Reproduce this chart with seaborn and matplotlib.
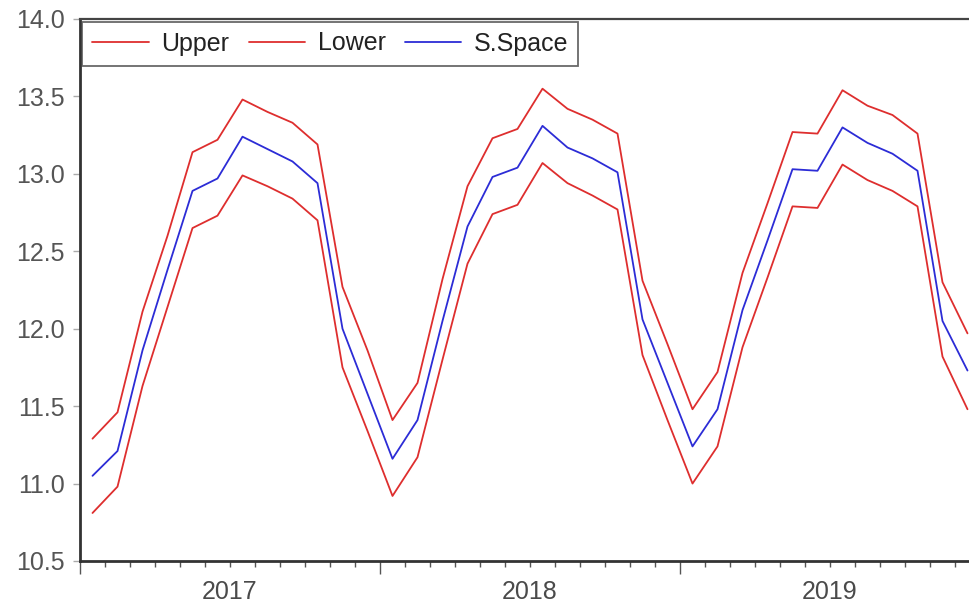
import matplotlib
matplotlib.use('Agg')
import matplotlib.pyplot as plt
import numpy as np
import pandas as pd
import seaborn as sns

# monthly observations 2017M01 - 2019M12
months = pd.period_range('2017-01', periods=36, freq='M')
years = ['2017', '2018', '2019']

upper = [11.29, 11.46, 12.11, 12.60, 13.14, 13.22, 13.48, 13.40, 13.33, 13.19, 12.27, 11.86,
         11.41, 11.65, 12.32, 12.92, 13.23, 13.29, 13.55, 13.42, 13.35, 13.26, 12.31, 11.90,
         11.48, 11.72, 12.36, 12.81, 13.27, 13.26, 13.54, 13.44, 13.38, 13.26, 12.30, 11.97]
sspace = [11.05, 11.21, 11.86, 12.38, 12.89, 12.97, 13.24, 13.16, 13.08, 12.94, 12.00, 11.58,
          11.16, 11.41, 12.05, 12.66, 12.98, 13.04, 13.31, 13.17, 13.10, 13.01, 12.06, 11.65,
          11.24, 11.48, 12.12, 12.57, 13.03, 13.02, 13.30, 13.20, 13.13, 13.02, 12.05, 11.73]
lower = [10.81, 10.98, 11.63, 12.14, 12.65, 12.73, 12.99, 12.92, 12.84, 12.70, 11.75, 11.34,
         10.92, 11.17, 11.80, 12.42, 12.74, 12.80, 13.07, 12.94, 12.86, 12.77, 11.83, 11.41,
         11.00, 11.24, 11.88, 12.33, 12.79, 12.78, 13.06, 12.96, 12.89, 12.79, 11.82, 11.48]

# position of each month on a month-count axis, centred in its month
pos = (months.year - 2017) * 12 + (months.month - 1) + 0.5

df = pd.DataFrame({'t': pos, 'Upper': upper, 'Lower': lower, 'S.Space': sspace})
df = df.melt(id_vars='t', var_name='series', value_name='value')

sns.set_style('white')
plt.rcParams['font.family'] = ['Liberation Sans', 'DejaVu Sans']

red = '#de2e2e'
blue = '#2c2cd6'

fig = plt.figure(figsize=(9.7, 6.04), dpi=100)
ax = fig.add_axes([80 / 970, 43 / 604, 900 / 970, 542 / 604])

sns.lineplot(data=df, x='t', y='value', hue='series',
             hue_order=['Upper', 'Lower', 'S.Space'],
             palette={'Upper': red, 'Lower': red, 'S.Space': blue},
             linewidth=1.3, ax=ax, legend=True)

ax.set_xlim(0, 36)
ax.set_ylim(10.5, 14.0)
ax.set_yticks(np.arange(10.5, 14.01, 0.5))
ax.set_yticklabels([f'{v:.1f}' for v in np.arange(10.5, 14.01, 0.5)])
ax.set_xlabel('')
ax.set_ylabel('')

ax.set_xticks([0, 12, 24, 36])
ax.set_xticklabels([])
ax.set_xticks(range(37), minor=True)
ax.tick_params(axis='x', which='both', bottom=True, direction='out', color='#555', width=1)
ax.tick_params(axis='x', which='major', length=9.5)
ax.tick_params(axis='x', which='minor', length=4.5)
ax.tick_params(axis='y', left=True, length=5, width=1, color='#aaa', pad=6,
               labelsize=18, labelcolor='#555', direction='out')

for i, y in enumerate(years):
    ax.text(6 + 12 * i, -0.057, y, transform=ax.get_xaxis_transform(),
            ha='center', va='center', fontsize=18, color='#4a4a4a')

for side in ['left', 'bottom']:
    ax.spines[side].set_color('#333')
    ax.spines[side].set_linewidth(2)
ax.spines['top'].set_color('#444')
ax.spines['top'].set_linewidth(1.6)
ax.spines['right'].set_visible(False)

handles, labels = ax.get_legend_handles_labels()
leg = ax.legend(handles, labels, loc='upper left', ncol=3, fontsize=18,
                frameon=True, fancybox=False, borderaxespad=0.1, borderpad=0.4,
                handlelength=2.24, handletextpad=0.52, columnspacing=0.76)
leg.get_frame().set_edgecolor('#444')
leg.get_frame().set_linewidth(1.3)
for t in leg.get_texts():
    t.set_color('#222')
for h in leg.get_lines():
    h.set_linewidth(1.3)

fig.savefig('out.png', dpi=100)
plt.close(fig)
